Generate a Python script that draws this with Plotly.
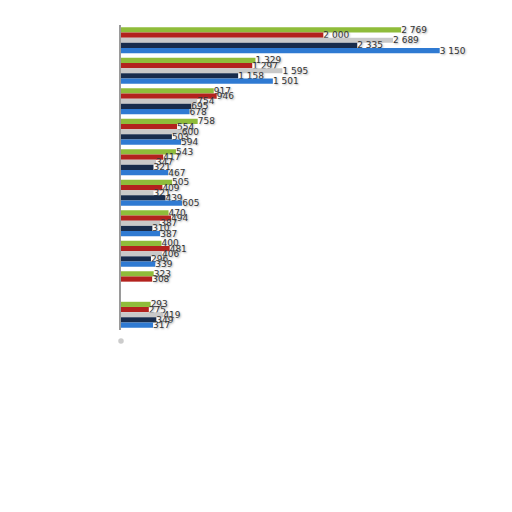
import plotly.graph_objects as go

categories = ["G1", "G2", "G3", "G4", "G5", "G6", "G7", "G8", "G9", "G10"]
series_green = [2769, 1329, 917, 758, 543, 505, 470, 400, 323, 293]
series_red = [2000, 1297, 946, 554, 417, 409, 494, 481, 308, 275]
series_grey = [2689, 1595, 754, 600, 347, 321, 387, 406, None, 419]
series_navy = [2335, 1158, 695, 503, 321, 439, 310, 296, None, 349]
series_blue = [3150, 1501, 678, 594, 467, 605, 387, 339, None, 317]

series = [
    ("green", series_green, "#8fbc3a"),
    ("red", series_red, "#b3221e"),
    ("grey", series_grey, "#c9c9c9"),
    ("navy", series_navy, "#182c4c"),
    ("blue", series_blue, "#2f7ad2"),
]

fig = go.Figure()
for name, vals, color in series:
    fig.add_trace(go.Bar(
        y=categories, x=vals, orientation="h", name=name,
        marker=dict(color=color, line=dict(width=0)),
        texttemplate="%{x:,}", textposition="outside",
        constraintext="none", cliponaxis=False,
        textfont=dict(family="DejaVu Sans", size=9, color="#333333",
                      shadow="1px 1px 2px #aaaaaa"),
    ))

fig.update_layout(
    width=512, height=512,
    margin=dict(l=113, r=55, t=17, b=190),
    barmode="group", bargap=0.15, bargroupgap=0,
    separators=". ",
    showlegend=False,
    plot_bgcolor="white", paper_bgcolor="white",
    xaxis=dict(range=[0, 3400], showgrid=False, showticklabels=False,
               zeroline=False, showline=False, ticks=""),
    yaxis=dict(autorange="reversed", showticklabels=False, showgrid=False,
               zeroline=False, showline=True, linecolor="#9a9a9a",
               linewidth=2, ticks=""),
    shapes=[dict(type="circle", xref="paper", yref="paper",
                 x0=-0.008, x1=0.008, y0=-0.045, y1=-0.027,
                 fillcolor="#cccccc", line=dict(width=0))],
)

fig.write_html("out.html")
